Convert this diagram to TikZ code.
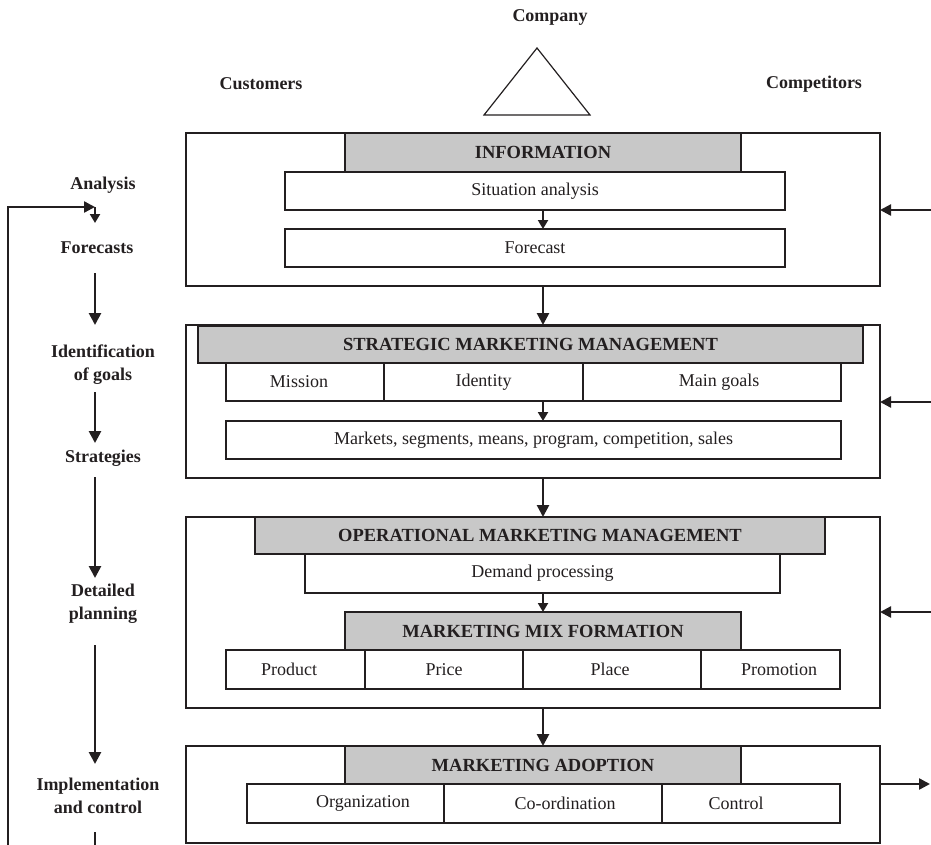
\documentclass[tikz,border=0pt]{standalone}
\usepackage{fontspec}
\setmainfont{Liberation Serif}
\usetikzlibrary{arrows.meta,calc}
\definecolor{hdr}{RGB}{200,200,200}
\definecolor{ink}{RGB}{35,31,32}
\newcommand{\offtext}[2]{\makebox[0pt]{\hspace{#1}#2}}
\begin{document}
\begin{tikzpicture}[x=1pt,y=-1pt,
  every node/.style={font=\fontsize{18}{23}\selectfont, text=ink, inner sep=0pt, outer sep=0pt},
  frame/.style={draw=ink, line width=1.2pt, fill=white, rectangle},
  hdrbox/.style={draw=ink, line width=1.2pt, fill=hdr, rectangle, font=\fontsize{18.5}{23}\selectfont\bfseries},
  cell/.style={draw=ink, line width=1.2pt, fill=white, rectangle},
  lbl/.style={font=\fontsize{18}{23}\selectfont\bfseries, align=center},
  bigarrow/.style={draw=ink, line width=2.6pt, -{Triangle[length=12pt,width=12pt]}},
  sidearrow/.style={draw=ink, line width=2.4pt, -{Triangle[length=11pt,width=11pt]}},
  smallarrow/.style={draw=ink, line width=2pt, -{Triangle[length=9pt,width=10pt]}},
  thinline/.style={draw=ink, line width=1.2pt},
]
\useasboundingbox (0,0) rectangle (931,844);

% top labels and triangle
\node[lbl] (company) at (550,17) {Company};
\node[lbl] (customers) at (261,84) {Customers};
\node[lbl] (competitors) at (814,84) {Competitors};
\coordinate (triL) at (484,115);
\coordinate (triR) at (590,115);
\coordinate (triT) at (537,48);
\draw[thinline] (triL) -- (triR) -- (triT) -- cycle;

% Box 1: information
\node[frame, minimum width=694, minimum height=153] (box1) at (533,209.5) {};
\node[hdrbox, minimum width=396, minimum height=39] (infohdr) at (543,152.5) {INFORMATION};
\node[cell, minimum width=500, minimum height=38] (situation) at (535,191) {Situation analysis};
\node[cell, minimum width=500, minimum height=38] (forecast) at (535,248) {Forecast};
\draw[smallarrow] (infohdr.center |- situation.south) -- (infohdr.center |- forecast.north);

% Box 2: strategic
\node[frame, minimum width=694, minimum height=153] (box2) at (533,401.5) {};
\node[hdrbox, minimum width=665, minimum height=37] (smmhdr) at (530.5,344.5) {STRATEGIC MARKETING MANAGEMENT};
\node[cell, minimum width=158, minimum height=38] (mission) at (305,382) {\offtext{-12pt}{Mission}};
\node[cell, minimum width=199, minimum height=38] (identity) at (483.5,382) {Identity};
\node[cell, minimum width=258, minimum height=38] (maingoals) at (712,382) {\offtext{14pt}{Main goals}};
\node[cell, minimum width=615, minimum height=38] (markets) at (533.5,440) {Markets, segments, means, program, competition, sales};
\draw[smallarrow] (infohdr.center |- identity.south) -- (infohdr.center |- markets.north);

% Box 3: operational
\node[frame, minimum width=694, minimum height=191] (box3) at (533,612.5) {};
\node[hdrbox, minimum width=570, minimum height=37] (omhdr) at (540,535.5) {OPERATIONAL MARKETING MANAGEMENT};
\node[cell, minimum width=475, minimum height=39] (demand) at (542.5,573.5) {Demand processing};
\node[hdrbox, minimum width=396, minimum height=38] (mixhdr) at (543,631) {MARKETING MIX FORMATION};
\node[cell, minimum width=139, minimum height=39] (product) at (295.5,669.5) {\offtext{-13pt}{Product}};
\node[cell, minimum width=158, minimum height=39] (price) at (444,669.5) {Price};
\node[cell, minimum width=178, minimum height=39] (place) at (612,669.5) {\offtext{-4pt}{Place}};
\node[cell, minimum width=139, minimum height=39] (promotion) at (770.5,669.5) {\offtext{17pt}{Promotion}};
\draw[smallarrow] (mixhdr.center |- demand.south) -- (mixhdr.north);

% Box 4: adoption
\node[frame, minimum width=694, minimum height=97] (box4) at (533,794.5) {};
\node[hdrbox, minimum width=396, minimum height=38] (adopthdr) at (543,765) {MARKETING ADOPTION};
\node[cell, minimum width=197, minimum height=39] (organization) at (345.5,803.5) {\offtext{35pt}{Organization}};
\node[cell, minimum width=218, minimum height=39] (coordination) at (553,803.5) {\offtext{24pt}{Co-ordination}};
\node[cell, minimum width=178, minimum height=39] (control) at (751,803.5) {\offtext{-30pt}{Control}};

% arrows between boxes
\draw[bigarrow] (infohdr.center |- box1.south) -- (infohdr.center |- box2.north);
\draw[bigarrow] (mixhdr.center |- box2.south) -- (mixhdr.center |- box3.north);
\draw[bigarrow] (adopthdr.center |- box3.south) -- (adopthdr.north);

% right side arrows
\coordinate (e1) at (931,210);
\coordinate (e2) at (931,402);
\coordinate (e3) at (931,612);
\coordinate (e4) at (930,784);
\draw[sidearrow] (e1) -- (e1 -| box1.east);
\draw[sidearrow] (e2) -- (e2 -| box2.east);
\draw[sidearrow] (e3) -- (e3 -| box3.east);
\draw[sidearrow] (e4 -| box4.east) -- (e4);

% left column
\node[lbl] (analysis) at (103,185) {Analysis};
\node[lbl] (forecasts) at (97,248) {Forecasts};
\node[lbl] (idgoals) at (103,364.5) {Identification\\of goals};
\node[lbl] (strategies) at (103,458) {Strategies};
\node[lbl] (detailed) at (103,603.5) {Detailed\\planning};
\node[lbl] (implement) at (98,795.5) {Implementation\\and control};

\draw[bigarrow] ($(forecasts.center)+(-2,25)$) -- ($(idgoals.center)+(-8,-39.5)$);
\draw[bigarrow] ($(idgoals.center)+(-8,27.5)$) -- ($(strategies.center)+(-8,-15)$);
\draw[bigarrow] ($(strategies.center)+(-8,19)$) -- ($(detailed.center)+(-8,-25.5)$);
\draw[bigarrow] ($(detailed.center)+(-8,41.5)$) -- ($(implement.center)+(-3,-31.5)$);
\draw[thinline] ($(implement.center)+(-3,36.5)$) -- ($(implement.center)+(-3,49)$);

% feedback loop
\coordinate (loopbottom) at (8,845);
\coordinate (loopcorner) at (8,207);
\draw[thinline] (loopbottom) -- (loopcorner);
\draw[sidearrow] ([xshift=-0.6pt]loopcorner) -- ($(analysis.center)+(-8,22)$);
\draw[smallarrow] ($(analysis.center)+(-8,22)$) -- ($(analysis.center)+(-8,38)$);
\end{tikzpicture}
\end{document}
